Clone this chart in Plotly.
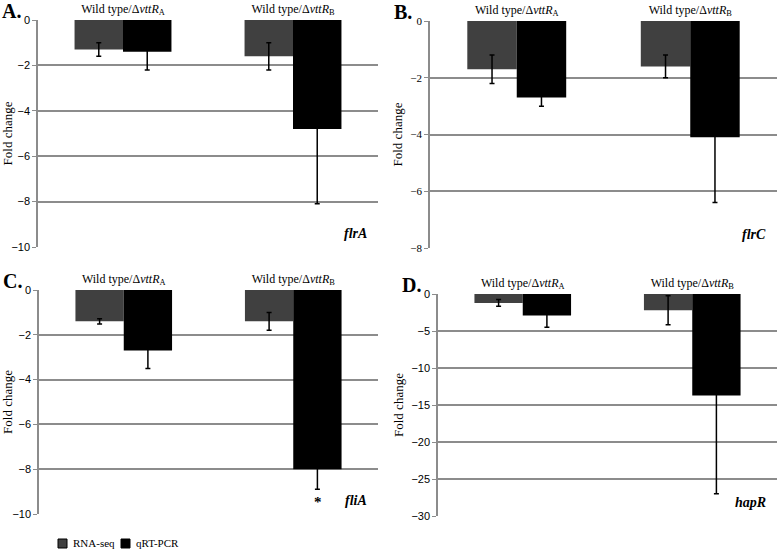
import plotly.graph_objects as go

categories = ["Wild type/Δ<i>vttR</i><sub>A</sub>", "Wild type/Δ<i>vttR</i><sub>B</sub>"]
series_names = ["RNA-seq", "qRT-PCR"]

# Panel A (flrA)
a_rna = [-1.3, -1.6]
a_rna_err = [0.3, 0.6]
a_qrt = [-1.4, -4.8]
a_qrt_err = [0.8, 3.3]
# Panel B (flrC)
b_rna = [-1.7, -1.6]
b_rna_err = [0.5, 0.4]
b_qrt = [-2.7, -4.1]
b_qrt_err = [0.3, 2.3]
# Panel C (fliA)
c_rna = [-1.4, -1.4]
c_rna_err = [0.12, 0.4]
c_qrt = [-2.7, -8.0]
c_qrt_err = [0.8, 0.9]
# Panel D (hapR)
d_rna = [-1.2, -2.2]
d_rna_err = [0.45, 1.95]
d_qrt = [-2.9, -13.7]
d_qrt_err = [1.6, 13.3]

panel_letters = ["A.", "B.", "C.", "D."]
gene_names = ["flrA", "flrC", "fliA", "hapR"]
y_ranges = [[-10, 0], [-8, 0], [-10, 0], [-30, 0]]
y_dticks = [2, 2, 2, 5]

W, H = 778, 551
GRAY = "#404040"
GRID = "#8c8c8c"
SERIF = "Liberation Serif, Times New Roman, serif"
SANS = "Liberation Sans, Arial, sans-serif"
series_colors = [GRAY, "black"]

# pixel boxes of plot areas: (x0, x1, ytop, ybottom)
boxes = [(38, 378, 20, 247), (430, 777, 21, 248), (39, 378, 290, 514), (438, 777, 294, 516)]

panels = [
    (a_rna, a_rna_err, a_qrt, a_qrt_err),
    (b_rna, b_rna_err, b_qrt, b_qrt_err),
    (c_rna, c_rna_err, c_qrt, c_qrt_err),
    (d_rna, d_rna_err, d_qrt, d_qrt_err),
]

fig = go.Figure()
layout = dict(
    width=W, height=H, margin=dict(l=0, r=0, t=0, b=0, autoexpand=False),
    paper_bgcolor="white", plot_bgcolor="white",
    barmode="group", bargap=0.43, bargroupgap=0,
    showlegend=False,
    font=dict(family=SERIF, color="black"),
)
annotations = []
shapes = []

for i, (rna, rna_err, qrt, qrt_err) in enumerate(panels):
    k = "" if i == 0 else str(i + 1)
    xa, ya = "x" + k, "y" + k
    fig.add_trace(go.Bar(x=categories, y=rna, name=series_names[0], marker=dict(color=series_colors[0], line=dict(width=0)),
                         error_y=dict(type="data", array=rna_err, color="black", thickness=1.5, width=2.5),
                         xaxis=xa, yaxis=ya, offsetgroup="rna"))
    fig.add_trace(go.Bar(x=categories, y=qrt, name=series_names[1], marker=dict(color=series_colors[1], line=dict(width=0)),
                         error_y=dict(type="data", array=qrt_err, color="black", thickness=1.5, width=2.5),
                         xaxis=xa, yaxis=ya, offsetgroup="qrt"))
    x0, x1, yt, yb = boxes[i]
    tickfont = SERIF if i == 1 else SANS
    layout["xaxis" + k] = dict(domain=[x0 / W, x1 / W], anchor=ya, side="top", showgrid=False,
                               showline=False, ticks="", zeroline=False, fixedrange=True, automargin=False,
                               ticklabelstandoff=4,
                               tickfont=dict(family=SERIF, size=12, color="black"))
    layout["yaxis" + k] = dict(domain=[1 - yb / H, 1 - yt / H], anchor=xa, range=y_ranges[i],
                               dtick=y_dticks[i], showgrid=True, gridcolor=GRID, gridwidth=1.5,
                               showline=True, linecolor=GRID, linewidth=1.5, ticks="outside",
                               ticklen=4, tickcolor=GRID, tickwidth=1, zeroline=False, automargin=False,
                               fixedrange=True,
                               tickfont=dict(family=tickfont, size=11, color="black"),
                               title=dict(text="Fold change", font=dict(family=SERIF, size=13, color="black"),
                                          standoff=5))
    # panel letter
    annotations.append(dict(text="<b>" + panel_letters[i] + "</b>", xref="paper", yref="paper",
                            x=(x0 - 38) / W, y=1 - (yt - 9) / H, xanchor="left", yanchor="middle",
                            showarrow=False, font=dict(family=SERIF, size=20, color="black")))
    # gene name
    annotations.append(dict(text="<b><i>" + gene_names[i] + "</i></b>", xref="paper", yref="paper",
                            x=(x1 - 9) / W, y=1 - (yb - 14) / H, xanchor="right", yanchor="middle",
                            showarrow=False, font=dict(family=SERIF, size=14, color="black")))

# significance asterisk on panel C qRT-PCR bar of second group
annotations.append(dict(text="<b>*</b>", xref="x3", yref="y3", x=categories[1],
                        y=c_qrt[1] - c_qrt_err[1] - 0.55, xshift=24.5, showarrow=False,
                        yanchor="middle", font=dict(family=SERIF, size=15, color="black")))

# legend (manual, compact like the reference)
key_x = [58, 121]
text_x = [71, 134]
for j in range(2):
    shapes.append(dict(type="rect", xref="paper", yref="paper",
                       x0=key_x[j] / W, x1=(key_x[j] + 9) / W, y0=1 - 548 / H, y1=1 - 539 / H,
                       fillcolor=series_colors[j], line=dict(color="black", width=1)))
    annotations.append(dict(text=series_names[j], xref="paper", yref="paper", x=text_x[j] / W, y=1 - 543 / H,
                            xanchor="left", yanchor="middle", showarrow=False,
                            font=dict(family=SERIF, size=11, color="black")))

layout["annotations"] = annotations
layout["shapes"] = shapes
fig.update_layout(**layout)
fig.write_html("out.html", config={"displayModeBar": False},
               post_script="document.body.style.margin='0';document.body.style.overflow='hidden';")
